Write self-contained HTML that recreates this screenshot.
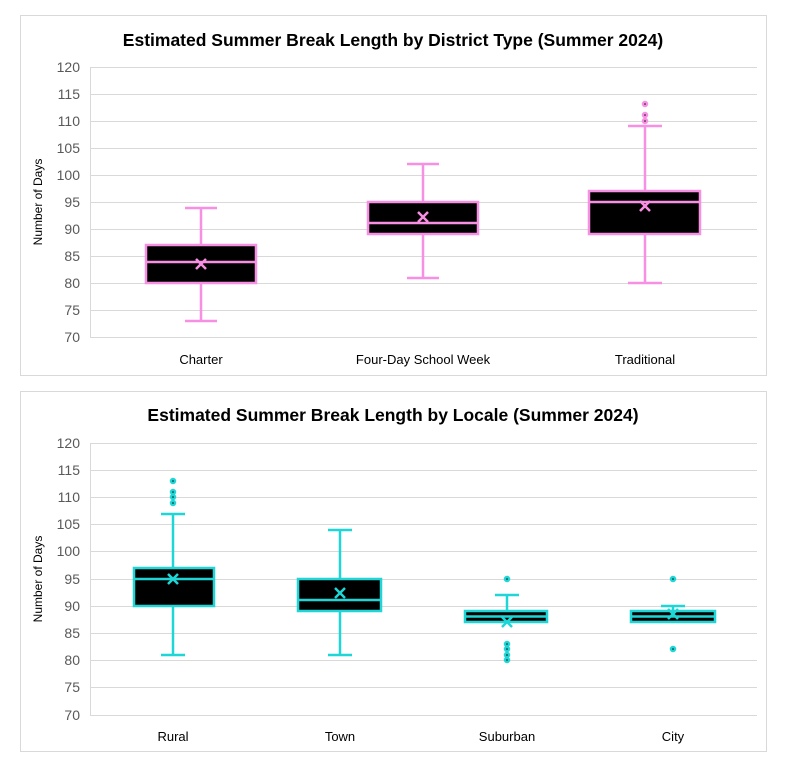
<!DOCTYPE html>
<html><head><style>body{margin:0;background:#fff}svg{display:block}text{font-family:"Liberation Sans",sans-serif}</style></head><body>
<svg width="797" height="762" xmlns="http://www.w3.org/2000/svg">
<rect x="20.5" y="15.5" width="746" height="360" fill="#fff" stroke="#d9d9d9"/>
<rect x="20.5" y="391.5" width="746" height="360" fill="#fff" stroke="#d9d9d9"/>
<text x="393" y="46" text-anchor="middle" font-size="17.5" font-weight="bold" fill="#000">Estimated Summer Break Length by District Type (Summer 2024)</text>
<text x="393" y="421" text-anchor="middle" font-size="17.5" font-weight="bold" fill="#000">Estimated Summer Break Length by Locale (Summer 2024)</text>
<g stroke="#d9d9d9" stroke-width="1">
<line x1="90" x2="757" y1="67.5" y2="67.5"/><line x1="90" x2="757" y1="94.5" y2="94.5"/><line x1="90" x2="757" y1="121.5" y2="121.5"/><line x1="90" x2="757" y1="148.5" y2="148.5"/><line x1="90" x2="757" y1="175.5" y2="175.5"/><line x1="90" x2="757" y1="202.5" y2="202.5"/><line x1="90" x2="757" y1="229.5" y2="229.5"/><line x1="90" x2="757" y1="256.5" y2="256.5"/><line x1="90" x2="757" y1="283.5" y2="283.5"/><line x1="90" x2="757" y1="310.5" y2="310.5"/><line x1="90" x2="757" y1="337.5" y2="337.5"/>
<line x1="90.5" x2="90.5" y1="67" y2="337"/>
<line x1="90" x2="757" y1="443.5" y2="443.5"/><line x1="90" x2="757" y1="470.5" y2="470.5"/><line x1="90" x2="757" y1="497.5" y2="497.5"/><line x1="90" x2="757" y1="524.5" y2="524.5"/><line x1="90" x2="757" y1="551.5" y2="551.5"/><line x1="90" x2="757" y1="579.5" y2="579.5"/><line x1="90" x2="757" y1="606.5" y2="606.5"/><line x1="90" x2="757" y1="633.5" y2="633.5"/><line x1="90" x2="757" y1="660.5" y2="660.5"/><line x1="90" x2="757" y1="687.5" y2="687.5"/><line x1="90" x2="757" y1="715.5" y2="715.5"/>
<line x1="90.5" x2="90.5" y1="443" y2="715"/>
</g>
<g font-size="14" fill="#595959" text-anchor="end">
<text x="80" y="72">120</text><text x="80" y="99">115</text><text x="80" y="126">110</text><text x="80" y="153">105</text><text x="80" y="180">100</text><text x="80" y="207">95</text><text x="80" y="234">90</text><text x="80" y="261">85</text><text x="80" y="288">80</text><text x="80" y="315">75</text><text x="80" y="342">70</text>
<text x="80" y="448">120</text><text x="80" y="475">115</text><text x="80" y="502">110</text><text x="80" y="529">105</text><text x="80" y="556">100</text><text x="80" y="584">95</text><text x="80" y="611">90</text><text x="80" y="638">85</text><text x="80" y="665">80</text><text x="80" y="692">75</text><text x="80" y="720">70</text>
</g>
<g font-size="13" fill="#000" text-anchor="middle">
<text x="201" y="364">Charter</text><text x="423" y="364">Four-Day School Week</text><text x="645" y="364">Traditional</text>
<text x="173" y="741">Rural</text><text x="340" y="741">Town</text><text x="507" y="741">Suburban</text><text x="673" y="741">City</text>
<text transform="translate(42,202) rotate(-90)" font-size="12">Number of Days</text>
<text transform="translate(42,579) rotate(-90)" font-size="12">Number of Days</text>
</g>
<g stroke="#f78fe3" stroke-width="2.5" fill="none">
<line x1="201" x2="201" y1="208" y2="245"/><line x1="201" x2="201" y1="283" y2="321"/><line x1="185" x2="217" y1="208" y2="208"/><line x1="185" x2="217" y1="321" y2="321"/>
<rect x="146" y="245" width="110" height="38" fill="#000"/><line x1="146" x2="256" y1="262" y2="262"/>
<path d="M196 259l10 10M206 259l-10 10"/>
<line x1="423" x2="423" y1="164" y2="202"/><line x1="423" x2="423" y1="234" y2="278"/><line x1="407" x2="439" y1="164" y2="164"/><line x1="407" x2="439" y1="278" y2="278"/>
<rect x="368" y="202" width="110" height="32" fill="#000"/><line x1="368" x2="478" y1="223" y2="223"/>
<path d="M418 212l10 10M428 212l-10 10"/>
<line x1="645" x2="645" y1="126" y2="191"/><line x1="645" x2="645" y1="234" y2="283"/><line x1="628" x2="662" y1="126" y2="126"/><line x1="628" x2="662" y1="283" y2="283"/>
<rect x="589" y="191" width="111" height="43" fill="#000"/><line x1="589" x2="700" y1="202" y2="202"/>
<path d="M640 201l10 10M650 201l-10 10"/>
<circle cx="645" cy="104" r="2" fill="#000"/><circle cx="645" cy="115" r="2" fill="#000"/><circle cx="645" cy="121" r="2" fill="#000"/>
</g>
<g stroke="#1fd6d6" stroke-width="2.5" fill="none">
<line x1="173" x2="173" y1="514" y2="568"/><line x1="173" x2="173" y1="606" y2="655"/><line x1="161" x2="185" y1="514" y2="514"/><line x1="161" x2="185" y1="655" y2="655"/>
<rect x="134" y="568" width="80" height="38" fill="#000"/><line x1="134" x2="214" y1="579" y2="579"/>
<path d="M168 574l10 10M178 574l-10 10"/>
<circle cx="173" cy="481" r="2" fill="#000"/><circle cx="173" cy="492" r="2" fill="#000"/><circle cx="173" cy="497" r="2" fill="#000"/><circle cx="173" cy="503" r="2" fill="#000"/>
<line x1="340" x2="340" y1="530" y2="579"/><line x1="340" x2="340" y1="611" y2="655"/><line x1="328" x2="352" y1="530" y2="530"/><line x1="328" x2="352" y1="655" y2="655"/>
<rect x="298" y="579" width="83" height="32" fill="#000"/><line x1="298" x2="381" y1="600" y2="600"/>
<path d="M335 588l10 10M345 588l-10 10"/>
<line x1="507" x2="507" y1="595" y2="611"/><line x1="495" x2="519" y1="595" y2="595"/>
<rect x="465" y="611" width="82" height="11" fill="#000"/><line x1="465" x2="547" y1="616.5" y2="616.5"/>
<path d="M502 617l10 10M512 617l-10 10"/>
<circle cx="507" cy="579" r="2" fill="#000"/><circle cx="507" cy="644" r="2" fill="#000"/><circle cx="507" cy="649" r="2" fill="#000"/><circle cx="507" cy="655" r="2" fill="#000"/><circle cx="507" cy="660" r="2" fill="#000"/>
<line x1="673" x2="673" y1="606" y2="611"/><line x1="661" x2="685" y1="606" y2="606"/>
<rect x="631" y="611" width="84" height="11" fill="#000"/><line x1="631" x2="715" y1="616.5" y2="616.5"/>
<path d="M668 609l10 10M678 609l-10 10"/>
<circle cx="673" cy="579" r="2" fill="#000"/><circle cx="673" cy="649" r="2" fill="#000"/>
</g>
</svg>
</body></html>
